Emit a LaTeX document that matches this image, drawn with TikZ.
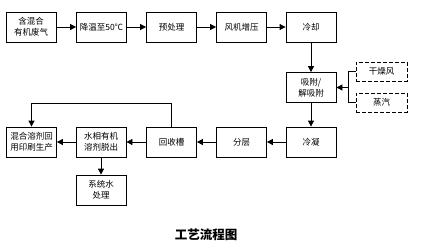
\documentclass[tikz,border=0pt]{standalone}
\usepackage{fontspec}
\newfontfamily\cjk{Noto Sans CJK SC}
\usetikzlibrary{arrows.meta}
\begin{document}
\begin{tikzpicture}[x=1pt,y=-1pt,
  box/.style={draw,line width=0.8pt,minimum width=50pt,minimum height=30pt,align=center,inner sep=1pt,font=\cjk\fontsize{8.5}{11}\selectfont},
  dbox/.style={draw,line width=0.9pt,dash pattern=on 4pt off 2pt,minimum width=51pt,minimum height=19pt,inner sep=1pt,font=\cjk\fontsize{8.5}{11}\selectfont},
  arr/.style={line width=0.8pt,-{Triangle[length=6pt,width=6pt]}},
  ln/.style={line width=0.8pt}]
\useasboundingbox (0,0) rectangle (428,242);
\node[box] (b1) at (31,27) {含混合\\有机废气};
\node[box] (b2) at (101.5,27) {降温至50℃};
\node[box] (b3) at (171.5,27) {预处理};
\node[box] (b4) at (241.5,27) {风机增压};
\node[box] (b5) at (311,27) {冷却};
\node[box] (ads) at (311,87.5) {吸附/\\解吸附};
\node[dbox] (dry) at (381.5,71.5) {干燥风};
\node[dbox] (steam) at (381.5,102.5) {蒸汽};
\node[box] (cond) at (311,142) {冷凝};
\node[box] (fen) at (241.5,142) {分层};
\node[box] (hsc) at (171.5,142) {回收槽};
\node[box] (shui) at (101,142) {水相有机\\溶剂脱出};
\node[box] (mix) at (31.5,142) {混合溶剂回\\用印刷生产};
\node[box] (water) at (101,190) {系统水\\处理};
\node[font=\cjk\bfseries\fontsize{12.5}{14}\selectfont,inner sep=0pt] (title) at (206,234.5) {工艺流程图};
\draw[arr] (b1) -- (b2);
\draw[arr] (b2) -- (b3);
\draw[arr] (b3) -- (b4);
\draw[arr] (b4) -- (b5);
\draw[arr] (b5) -- (ads);
\coordinate (j) at (348,87.5);
\draw[ln] (dry.west) -| (j);
\draw[ln] (steam.west) -| (j);
\draw[arr] (j) -- (ads.east);
\draw[arr] (ads) -- (cond);
\draw[arr] (cond) -- (fen);
\draw[arr] (fen) -- (hsc);
\draw[arr] (hsc) -- (shui);
\draw[arr] (shui) -- (mix);
\draw[arr] (shui) -- (water);
\draw[arr] (hsc.north) -- ++(0,-23) -| (mix.north);
\end{tikzpicture}
\end{document}
